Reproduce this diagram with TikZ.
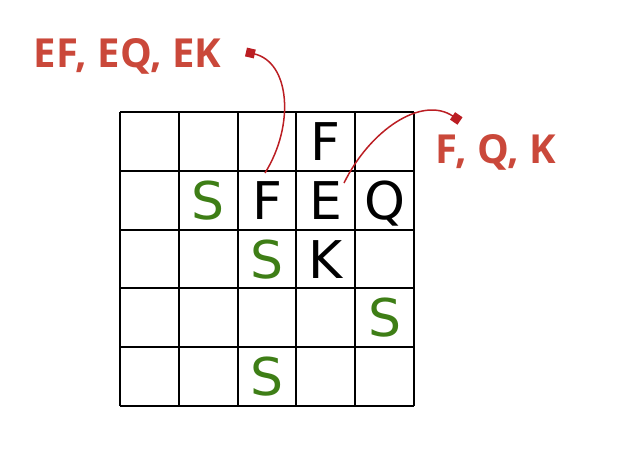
\documentclass[tikz,border=0pt]{standalone}
\usepackage{fontspec}
\setmainfont{DejaVu Sans}
\newfontfamily\labfont{Open Sans}[BoldFont={* Bold}]
\usetikzlibrary{arrows.meta}
\definecolor{labred}{RGB}{202,72,58}
\definecolor{linkred}{RGB}{187,30,35}
\definecolor{sgreen}{RGB}{62,126,22}
\tikzset{
  gridline/.style={line width=2pt, black},
  letter/.style={anchor=base, inner sep=0pt, font=\fontsize{52}{52}\selectfont},
  sletter/.style={letter, text=sgreen},
  lab/.style={anchor=base, inner sep=0pt, text=labred, font=\labfont\bfseries\fontsize{40}{40}\selectfont},
  link/.style={line width=1.5pt, draw=linkred, -{Square[length=9pt,width=9pt]}}
}
\begin{document}
\begin{tikzpicture}[x=1pt,y=-1pt]
\useasboundingbox (0,0) rectangle (619,451);
\def\cs{58.8}
\foreach \i in {0,...,5} {
  \draw[gridline] (120+\i*\cs,112) -- (120+\i*\cs,406);
  \draw[gridline] (120,112+\i*\cs) -- (414,112+\i*\cs);
}
% letters: col center = 149.4 + 58.8 c ; baseline = 141.4 + 58.8 r + 19
\node[letter]  (f03) at (325.8,160.4) {F};
\node[sletter] (s11) at (208.2,219.2) {S};
\node[letter]  (f12) at (267.0,219.2) {F};
\node[letter]  (e13) at (325.8,219.2) {E};
\node[letter]  (q14) at (384.6,219.2) {Q};
\node[sletter] (s22) at (267.0,278.0) {S};
\node[letter]  (k23) at (325.8,278.0) {K};
\node[sletter] (s34) at (384.6,336.8) {S};
\node[sletter] (s42) at (267.0,395.6) {S};
% labels
\node[lab] (l1) at (127.5,67) {EF, EQ, EK};
\node[lab] (l2) at (496,163) {F, Q, K};
% connector ends
\coordinate (a1) at (265,173);
\coordinate (b1) at (246,52);
\coordinate (a2) at (344,183);
\coordinate (b2) at (460,121);
\draw[link] (a1) .. controls (295,125) and (290,62) .. (b1);
\draw[link] (a2) .. controls (370,130) and (422,95) .. (b2);
\end{tikzpicture}
\end{document}
